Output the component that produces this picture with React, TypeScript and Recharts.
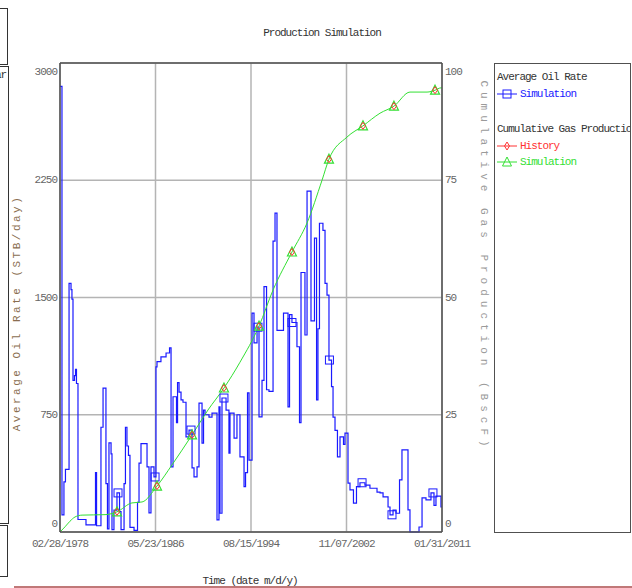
import React from "react";
import { ComposedChart, Line, XAxis, YAxis, CartesianGrid, ReferenceLine } from "recharts";

const FONT = '"Liberation Mono", "DejaVu Sans Mono", monospace';

// time axis is in decimal years
const dateTicks = [1978.16, 1986.39, 1994.62, 2002.85, 2011.08];
const dateLabels = ["02/28/1978", "05/23/1986", "08/15/1994", "11/07/2002", "01/31/2011"];
const rateTicks = [0, 750, 1500, 2250, 3000];
const gasTicks = [0, 25, 50, 75, 100];

// Average oil rate, simulation (STB/day), stepped
const oilYears = [
  1978.16, 1978.33, 1978.5, 1978.63, 1978.94, 1979.11, 1979.19, 1979.28, 1979.41, 1979.5,
  1979.58, 1979.71, 1980.4, 1981.22, 1981.31, 1981.69, 1981.87, 1982.12, 1982.25, 1982.38,
  1982.56, 1982.64, 1982.81, 1983.07, 1983.29, 1983.42, 1983.68, 1983.8, 1983.93, 1984.06,
  1984.19, 1984.54, 1984.84, 1984.97, 1985.14, 1985.66, 1985.83, 1986.0, 1986.26, 1986.43,
  1986.52, 1986.86, 1987.3, 1987.6, 1987.73, 1987.9, 1988.2, 1988.29, 1988.42, 1988.59,
  1988.76, 1989.02, 1989.28, 1989.54, 1989.71, 1989.97, 1990.14, 1990.4, 1990.53, 1990.66,
  1991.0, 1991.26, 1991.69, 1991.86, 1991.95, 1992.12, 1992.47, 1992.72, 1992.81, 1993.16,
  1993.41, 1993.67, 1994.02, 1994.15, 1994.32, 1994.45, 1994.71, 1994.88, 1995.14, 1995.31,
  1995.57, 1995.74, 1995.96, 1996.17, 1996.52, 1996.69, 1996.86, 1997.42, 1997.81, 1997.94,
  1998.15, 1998.58, 1998.8, 1998.93, 1999.27, 1999.45, 1999.79, 2000.09, 2000.27, 2000.39,
  2000.52, 2000.82, 2001.0, 2001.17, 2001.34, 2001.56, 2001.69, 2001.86, 2002.07, 2002.29,
  2002.59, 2002.72, 2002.98, 2003.15, 2003.45, 2003.71, 2004.01, 2004.44, 2004.87, 2005.48,
  2005.74, 2006.0, 2006.43, 2006.6, 2006.86, 2007.12, 2007.42, 2007.63, 2008.15, 2008.32,
  2009.1, 2009.36, 2009.7, 2010.13, 2010.39, 2010.56, 2010.99, 2011.08,
];
const oilRates = [
  2850, 110, 320, 400, 1590, 1550, 1490, 970, 1000, 1040,
  950, 80, 45, 380, 40, 670, 920, 310, 20, 570,
  500, 15, 140, 250, 130, 15, 310, 670, 550, 490,
  30, 10, 190, 440, 565, 416, 122, 416, 352, 1056,
  1090, 1120, 1145, 1178, 416, 865, 700, 955, 895, 845,
  830, 608, 652, 410, 352, 416, 825, 569, 780, 750,
  735, 760, 77, 800, 120, 857, 780, 505, 760, 600,
  750, 480, 290, 380, 890, 460, 1400, 1210, 1310, 736,
  970, 1570, 910, 900, 1860, 2040, 1290, 1400, 800, 1390,
  1340, 1185, 700, 1660, 1260, 2180, 1350, 1880, 845, 1300,
  1975, 1930, 1590, 1515, 1100, 930, 735, 650, 480, 608,
  560, 633, 313, 270, 185, 290, 315, 300, 280, 255,
  250, 225, 160, 110, 140, 120, 333, 525, 141, 0,
  32, 218, 205, 250, 170, 230, 160, 160,
];
const oilMarkerYears = [1983.16, 1986.35, 1989.45, 1992.29, 1995.22, 1998.15, 2001.38, 2004.19, 2006.77, 2010.3];

// Cumulative gas production, simulation (BscF)
const gasYears = [
  1978.16, 1978.59, 1979.02, 1979.45, 1980.06, 1982.04, 1983.07, 1984.36, 1985.23, 1986.52,
  1987.81, 1989.54, 1990.91, 1992.29, 1993.67, 1995.31, 1996.52, 1998.15, 1999.45, 2000.74,
  2001.34, 2002.89, 2004.27, 2005.74, 2006.94, 2008.32, 2009.79, 2010.48, 2010.99, 2011.08,
];
const gasValues = [
  0, 1.1, 2.3, 3.2, 3.6, 3.7, 4.3, 6.2, 6.4, 9.8,
  14.3, 20.7, 26.0, 30.7, 36.2, 43.9, 51.6, 59.7, 65.9, 75.0,
  79.5, 84.2, 86.6, 89.3, 90.8, 93.8, 93.8, 94.2, 94.7, 94.7,
];

// Cumulative gas production, history (BscF)
const historyYears = [1983.07, 1986.52, 1989.54, 1992.29, 1995.31, 1998.15, 2001.34, 2004.27, 2006.94, 2010.48];
const historyGas = [4.3, 9.8, 20.7, 30.7, 43.9, 59.7, 79.5, 86.6, 90.8, 94.2];

const oilData = oilYears.map((year, i) => ({ year, rate: oilRates[i] }));
const gasData = gasYears.map((year, i) => ({ year, gas: gasValues[i] }));
const historyData = historyYears.map((year, i) => ({ year, gas: historyGas[i] }));

// rate in force at a given time (step series)
const rateAt = (t: number) => {
  let r = oilRates[0];
  for (let i = 0; i < oilYears.length; i++) {
    if (oilYears[i] <= t) r = oilRates[i];
  }
  return r;
};
const oilMarkerData = oilMarkerYears.map((year) => ({ year, rate: rateAt(year) }));

const BLUE = "#1a1aff";
const GREEN = "#33e033";
const RED = "#ff3333";
const FRAME = "#505050";
const GRID = "#b4b4b4";

const textStyle = { fontFamily: FONT, fontSize: 11, letterSpacing: -1 };

const RateTick = (props: any) => {
  const { x, y, payload } = props;
  const shift = payload.value === 3000 ? 9 : payload.value === 0 ? -8 : 0;
  return (
    <text x={x} y={y + shift} textAnchor="end" dominantBaseline="central" fill="#666" style={textStyle}>
      {payload.value}
    </text>
  );
};

const GasTick = (props: any) => {
  const { x, y, payload } = props;
  const shift = payload.value === 100 ? 9 : payload.value === 0 ? -8 : 0;
  return (
    <text x={x} y={y + shift} textAnchor="start" dominantBaseline="central" fill="#666" style={textStyle}>
      {payload.value}
    </text>
  );
};

const DateTick = (props: any) => {
  const { x, y, payload } = props;
  const label = dateLabels[dateTicks.indexOf(payload.value)] ?? "";
  return (
    <text x={x} y={y} textAnchor="middle" dominantBaseline="central" fill="#666" style={textStyle}>
      {label}
    </text>
  );
};

const Square = (props: any) => {
  const { cx, cy, index } = props;
  if (cx == null || cy == null) return <g key={`sq${index}`} />;
  return <rect key={`sq${index}`} x={cx - 4} y={cy - 4} width={8} height={8} fill="none" stroke={BLUE} strokeWidth={1} />;
};

const Triangle = (props: any) => {
  const { cx, cy, payload, index } = props;
  if (cx == null || !historyYears.includes(payload.year)) return <g key={`tr${index}`} />;
  return (
    <path
      key={`tr${index}`}
      d={`M${cx},${cy - 5} L${cx + 4.5},${cy + 4} L${cx - 4.5},${cy + 4} Z`}
      fill="none"
      stroke={GREEN}
      strokeWidth={1.2}
    />
  );
};

const Diamond = (props: any) => {
  const { cx, cy, index } = props;
  if (cx == null) return <g key={`dm${index}`} />;
  return (
    <path
      key={`dm${index}`}
      d={`M${cx},${cy - 3.5} L${cx + 2.5},${cy} L${cx},${cy + 3.5} L${cx - 2.5},${cy} Z`}
      fill="none"
      stroke={RED}
      strokeWidth={1}
    />
  );
};

const LegendPanel = () => (
  <div
    style={{
      position: "absolute",
      left: 494,
      top: 63,
      width: 135,
      height: 468,
      border: `1px solid ${FRAME}`,
      overflow: "hidden",
      background: "#fff",
    }}
  >
    <svg width={200} height={468} style={{ display: "block" }}>
      <g style={textStyle}>
        <text x={2} y={13} dominantBaseline="central" fill="#333">Average Oil Rate</text>
        <line x1={2} x2={22} y1={30} y2={30} stroke={BLUE} />
        <rect x={8} y={26} width={8} height={8} fill="none" stroke={BLUE} />
        <text x={25} y={30} dominantBaseline="central" fill={BLUE}>Simulation</text>

        <text x={2} y={65} dominantBaseline="central" fill="#333">Cumulative Gas Production</text>
        <line x1={2} x2={22} y1={82} y2={82} stroke={RED} />
        <path d="M12,78 L14.5,82 L12,86 L9.5,82 Z" fill="none" stroke={RED} />
        <text x={25} y={82} dominantBaseline="central" fill={RED}>History</text>
        <line x1={2} x2={22} y1={98} y2={98} stroke={GREEN} />
        <path d="M12,93 L16.5,102 L7.5,102 Z" fill="none" stroke={GREEN} />
        <text x={25} y={98} dominantBaseline="central" fill={GREEN}>Simulation</text>
      </g>
    </svg>
  </div>
);

export default function App() {
  return (
    <div
      style={{
        position: "absolute",
        left: 0,
        top: 0,
        width: 632,
        height: 588,
        overflow: "hidden",
        background: "#fff",
      }}
    >
      {/* neighbouring panel edges */}
      <div style={{ position: "absolute", left: -10, top: 8, width: 16, height: 55, border: "1px solid #333" }} />
      <div style={{ position: "absolute", left: -10, top: 66, width: 17, height: 456, border: "1px solid #333", overflow: "hidden" }}>
        <span style={{ position: "absolute", left: 4, top: 2, fontFamily: FONT, fontSize: 11, letterSpacing: -1, color: "#333" }}>ar</span>
      </div>
      <div style={{ position: "absolute", left: -10, top: 525, width: 16, height: 50, border: "1px solid #333" }} />
      <div style={{ position: "absolute", left: 14, top: 586, width: 620, height: 2, background: "#c07878" }} />

      <ComposedChart width={632} height={588} margin={{ top: 63, right: 160, bottom: 26, left: 0 }}>
        <CartesianGrid yAxisId="left" stroke={GRID} strokeWidth={1.5} />
        <XAxis
          dataKey="year"
          type="number"
          domain={[dateTicks[0], dateTicks[dateTicks.length - 1]]}
          ticks={dateTicks}
          interval={0}
          height={30}
          tickSize={0}
          tickMargin={12}
          tick={<DateTick />}
          axisLine={{ stroke: FRAME, strokeWidth: 1.5 }}
          allowDataOverflow
        />
        <YAxis
          yAxisId="left"
          domain={[0, 3000]}
          ticks={rateTicks}
          interval={0}
          width={60}
          tickSize={0}
          tickMargin={3}
          tick={<RateTick />}
          axisLine={{ stroke: FRAME, strokeWidth: 1.5 }}
        />
        <YAxis
          yAxisId="right"
          orientation="right"
          domain={[0, 100]}
          ticks={gasTicks}
          interval={0}
          width={30}
          tickSize={0}
          tickMargin={3}
          tick={<GasTick />}
          axisLine={{ stroke: FRAME, strokeWidth: 1.5 }}
        />
        <ReferenceLine yAxisId="left" y={3000} stroke={FRAME} strokeWidth={1.5} />

        <Line
          yAxisId="left"
          data={oilData}
          dataKey="rate"
          type="stepAfter"
          stroke={BLUE}
          strokeWidth={1.2}
          dot={false}
          isAnimationActive={false}
        />
        <Line
          yAxisId="left"
          data={oilMarkerData}
          dataKey="rate"
          stroke="none"
          dot={<Square />}
          isAnimationActive={false}
        />
        <Line
          yAxisId="right"
          data={gasData}
          dataKey="gas"
          type="monotone"
          stroke={GREEN}
          strokeWidth={1}
          dot={<Triangle />}
          isAnimationActive={false}
        />
        <Line
          yAxisId="right"
          data={historyData}
          dataKey="gas"
          stroke="none"
          dot={<Diamond />}
          isAnimationActive={false}
        />

        <text x={322} y={33} textAnchor="middle" dominantBaseline="central" fill="#333" style={textStyle}>
          Production Simulation
        </text>
        <text
          x={17}
          y={313}
          textAnchor="middle"
          dominantBaseline="central"
          fill="#8a6e50"
          transform="rotate(-90, 17, 313)"
          style={{ fontFamily: FONT, fontSize: 11, letterSpacing: 2.5 }}
        >
          Average Oil Rate (STB/day)
        </text>
        <text
          x={484}
          y={266}
          textAnchor="middle"
          dominantBaseline="central"
          fill="#9a9a9a"
          transform="rotate(90, 484, 266)"
          style={{ fontFamily: FONT, fontSize: 11, letterSpacing: 5 }}
        >
          Cumulative Gas Production (BscF)
        </text>
        <text x={250} y={581} textAnchor="middle" dominantBaseline="central" fill="#333" style={textStyle}>
          Time (date m/d/y)
        </text>
      </ComposedChart>

      <LegendPanel />
    </div>
  );
}
